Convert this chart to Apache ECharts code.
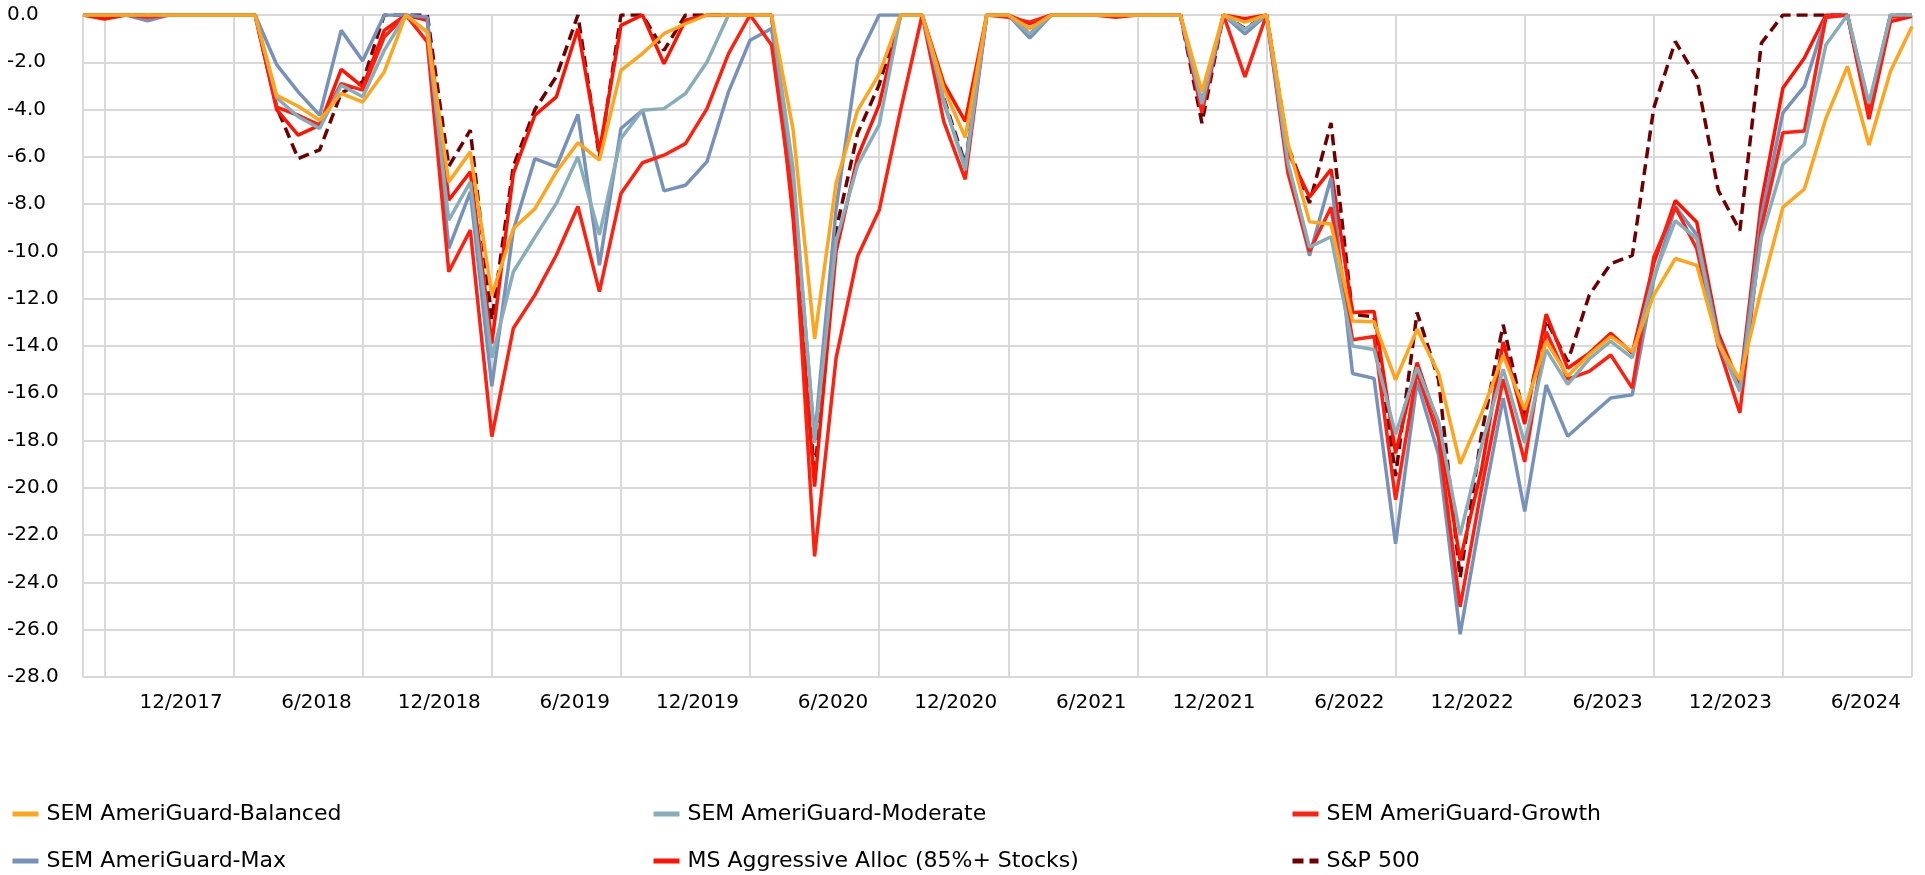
<!DOCTYPE html>
<html>
<head>
<meta charset="utf-8">
<script src="https://cdn.jsdelivr.net/npm/echarts@6/dist/echarts.min.js"></script>
<style>
  html, body { margin: 0; padding: 0; background: #fff; }
  #main { width: 1925px; height: 875px; }
</style>
</head>
<body>
<div id="main"></div>
<script>
// Monthly drawdowns (%), 5/2017 .. 6/2024
const months = [
  "5/2017", "6/2017", "7/2017", "8/2017", "9/2017", "10/2017", "11/2017", "12/2017",
  "1/2018", "2/2018", "3/2018", "4/2018", "5/2018", "6/2018", "7/2018", "8/2018", "9/2018", "10/2018", "11/2018", "12/2018",
  "1/2019", "2/2019", "3/2019", "4/2019", "5/2019", "6/2019", "7/2019", "8/2019", "9/2019", "10/2019", "11/2019", "12/2019",
  "1/2020", "2/2020", "3/2020", "4/2020", "5/2020", "6/2020", "7/2020", "8/2020", "9/2020", "10/2020", "11/2020", "12/2020",
  "1/2021", "2/2021", "3/2021", "4/2021", "5/2021", "6/2021", "7/2021", "8/2021", "9/2021", "10/2021", "11/2021", "12/2021",
  "1/2022", "2/2022", "3/2022", "4/2022", "5/2022", "6/2022", "7/2022", "8/2022", "9/2022", "10/2022", "11/2022", "12/2022",
  "1/2023", "2/2023", "3/2023", "4/2023", "5/2023", "6/2023", "7/2023", "8/2023", "9/2023", "10/2023", "11/2023", "12/2023",
  "1/2024", "2/2024", "3/2024", "4/2024", "5/2024", "6/2024"
];

const balanced = [
  0, 0, 0, 0, 0, 0, 0, 0, 0,
  -3.4, -3.86, -4.45, -3.32, -3.68, -2.41, 0, -0.72,
  -7.06, -5.79, -11.85, -9.03, -8.2, -6.63, -5.4, -6.14,
  -2.34, -1.63, -0.79, -0.37, 0, 0, 0, 0,
  -4.85, -13.7, -7.1, -4.03, -2.5, 0, 0, -3.1,
  -5.18, 0, 0, -0.57, 0, 0, 0, 0,
  0, 0, 0, -3.24, 0, -0.3, 0, -5.46,
  -8.75, -8.84, -12.94, -12.97, -15.43, -13.29, -15.16, -18.98,
  -16.85, -14.4, -16.7, -13.8, -15.27, -14.36, -13.6, -14.24,
  -11.85, -10.3, -10.59, -13.9, -15.43, -11.6, -8.13, -7.36,
  -4.37, -2.17, -5.5, -2.38, -0.49
];

const moderate = [
  0, 0, 0, 0, 0, 0, 0, 0, 0,
  -3.5, -4.3, -4.8, -2.97, -3.46, -1.5, 0, -0.72,
  -8.68, -7.06, -14.5, -10.86, -9.4, -7.97, -6.0, -9.3,
  -5.22, -4.03, -3.96, -3.32, -1.99, 0, 0, 0,
  -6.5, -18.1, -9.57, -6.34, -4.65, 0, 0, -3.57,
  -6.57, 0, 0, -0.8, 0, 0, 0, 0,
  0, 0, 0, -3.77, 0, -0.6, 0, -6.26,
  -9.82, -9.38, -14.0, -14.15, -17.74, -14.9, -17.2, -22.0,
  -18.2, -14.98, -18.1, -14.15, -15.62, -14.55, -13.8, -14.5,
  -11.08, -8.7, -9.47, -13.9, -15.9, -9.4, -6.31, -5.47,
  -1.26, 0, -3.74, 0, 0
];

const growth = [
  0, 0, 0, -0.1, 0, 0, 0, 0, 0,
  -3.9, -4.24, -4.66, -2.9, -3.18, -0.93, 0, -1.14,
  -10.86, -9.1, -17.83, -13.25, -11.85, -10.15, -8.1, -11.7,
  -7.55, -6.25, -5.93, -5.44, -3.96, -1.63, 0, -1.27,
  -8.0, -22.9, -14.5, -10.2, -8.26, -4.0, 0, -4.5,
  -6.95, 0, -0.1, -0.3, 0, 0, 0, -0.1,
  0, 0, 0, -4.13, 0, -2.62, 0, -6.7,
  -10.0, -8.13, -13.74, -13.6, -20.5, -15.07, -17.9, -25.03,
  -20.0, -15.4, -18.9, -13.4, -15.4, -15.07, -14.38, -15.78,
  -10.24, -8.13, -9.9, -14.0, -16.83, -9.0, -4.98, -4.91,
  -0.1, 0, -4.2, -0.1, 0
];

const maxFund = [
  0, 0, 0, -0.25, 0, 0, 0, 0, 0,
  -2.1, -3.25, -4.24, -0.65, -1.94, 0, 0, -0.1,
  -9.87, -7.48, -15.7, -9.1, -6.07, -6.42, -4.2, -10.58,
  -4.8, -4.03, -7.44, -7.2, -6.2, -3.25, -1.07, -0.57,
  -7.0, -17.9, -8.2, -1.88, 0, 0, 0, -3.7,
  -6.4, 0, 0, -0.98, 0, 0, 0, 0,
  0, 0, 0, -3.68, 0, -0.8, 0, -6.44,
  -10.18, -6.89, -15.16, -15.37, -22.37, -15.5, -18.6, -26.19,
  -21.0, -16.2, -21.0, -15.65, -17.82, -17.0, -16.2, -16.06,
  -11.2, -8.1, -9.3, -13.7, -15.9, -8.5, -4.14, -3.02,
  -0.1, 0, -3.8, 0, 0
];

const msAggressive = [
  0, -0.17, 0, 0, 0, 0, 0, 0, 0,
  -4.0, -5.08, -4.66, -2.3, -3.04, -0.65, 0, -0.22,
  -7.83, -6.63, -13.9, -6.7, -4.24, -3.46, -0.58, -5.8,
  -0.44, 0, -2.06, -0.22, 0, 0, 0, 0,
  -8.6, -19.95, -10.0, -6.0, -3.8, 0, 0, -2.88,
  -4.5, 0, 0, -0.37, 0, 0, 0, 0,
  0, 0, 0, -3.95, 0, -0.16, 0, -5.82,
  -7.69, -6.53, -12.58, -12.54, -18.54, -14.7, -17.38, -23.07,
  -19.2, -13.83, -17.3, -12.65, -14.94, -14.3, -13.46, -14.3,
  -10.5, -7.85, -8.77, -13.46, -15.7, -7.9, -3.09, -1.82,
  0, 0, -4.4, -0.28, -0.05
];

const sp500 = [
  0, 0, 0, 0, 0, 0, 0, 0, 0,
  -3.9, -6.07, -5.7, -3.3, -2.83, 0, 0, 0,
  -6.4, -4.87, -12.9, -6.4, -4.0, -2.6, 0, -6.0,
  0, 0, -1.5, 0, 0, 0, 0, 0,
  -8.2, -19.5, -9.1, -5.0, -2.95, 0, 0, -3.5,
  -6.3, 0, 0, -0.8, 0, 0, 0, 0,
  0, 0, 0, -4.57, 0, -0.57, 0, -5.55,
  -7.95, -4.57, -12.67, -12.76, -19.5, -12.58, -15.43, -23.8,
  -17.7, -13.1, -17.1, -12.9, -14.66, -11.85, -10.52, -10.17,
  -3.93, -1.12, -2.66, -7.43, -9.12, -1.19, 0, 0,
  0, 0, -4.1, 0, 0
];

const names = [
  "SEM AmeriGuard-Balanced", "SEM AmeriGuard-Moderate", "SEM AmeriGuard-Growth",
  "SEM AmeriGuard-Max", "MS Aggressive Alloc (85%+ Stocks)", "S&P 500"
];
const colors = ["#ffa41b", "#87adba", "#ff2010", "#7792ba", "#ff1200", "#700000"];
const allData = [balanced, moderate, growth, maxFund, msAggressive, sp500];

const font = "DejaVu Sans";
const gridColor = "#d9d9d9";

let myChart = echarts.init(document.getElementById("main"));

// first series is drawn on top
const series = allData.map((d, k) => ({
  name: names[k],
  type: "line",
  data: d,
  symbol: "none",
  z: 10 - k,
  color: colors[k],
  lineStyle: {
    width: 3.5,
    color: colors[k],
    type: k === 5 ? [11, 6] : "solid",
  },
}));

// one legend per column, two rows each
function legendCol(left, items) {
  return {
    orient: "vertical",
    left: left,
    top: 803,
    height: 72,
    padding: 0,
    itemWidth: 26,
    itemHeight: 6,
    itemGap: 25,
    data: items,
    itemStyle: { opacity: 0 },
    lineStyle: { width: 5 },
    textStyle: { fontFamily: font, fontSize: 22, color: "#000", padding: [0, 0, 0, 3] },
  };
}

let options = {
  animation: false,
  backgroundColor: "#fff",
  grid: { left: 83, right: 13, top: 15, bottom: 198 },
  legend: [
    legendCol(10, [names[0], names[3]]),
    legendCol(651, [names[1], names[4]]),
    legendCol(1290, [names[2], names[5]]),
  ],
  xAxis: {
    type: "category",
    data: months,
    boundaryGap: false,
    axisLine: { show: false },
    axisTick: {
      show: true,
      interval: (i) => i === 0 || i % 6 === 1,
      length: 14,
      lineStyle: { color: gridColor, width: 2 },
    },
    splitLine: {
      show: true,
      interval: (i) => i % 6 === 1,
      lineStyle: { color: gridColor, width: 2 },
    },
    axisLabel: {
      interval: (i) => i > 1 && i % 6 === 1,
      align: "right",
      padding: [0, 11, 0, 0],
      margin: 16,
      fontFamily: font,
      fontSize: 20,
      color: "#000",
    },
  },
  yAxis: {
    type: "value",
    min: -28,
    max: 0,
    interval: 2,
    axisLine: { show: true, lineStyle: { color: gridColor, width: 2 } },
    axisTick: { show: false },
    splitLine: { lineStyle: { color: gridColor, width: 2 } },
    axisLabel: {
      formatter: (v) => v.toFixed(1),
      align: "left",
      margin: 76,
      fontFamily: font,
      fontSize: 20,
      color: "#000",
    },
  },
  series: series,
};
myChart.setOption(options);
</script>
</body>
</html>
